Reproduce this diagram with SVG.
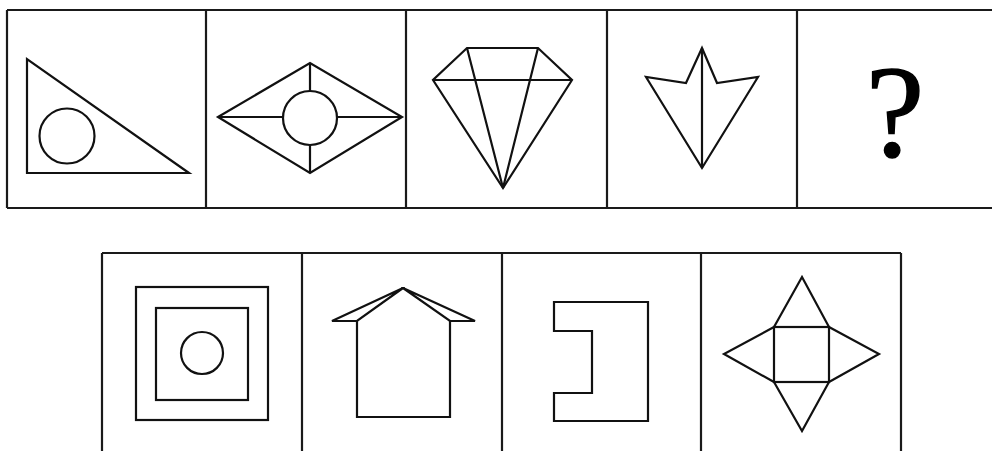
<svg xmlns="http://www.w3.org/2000/svg" width="992" height="451" viewBox="0 0 992 451">
<style>
.f{fill:none;stroke:#1a1a1a;stroke-width:2.2}
.s{fill:none;stroke:#111;stroke-width:2.2;stroke-linejoin:miter}
.q{font-family:"Liberation Serif","DejaVu Serif",serif;font-size:132px;fill:#000;stroke:#000;stroke-width:1.4}
</style>
<rect width="992" height="451" fill="#fff"/>
<g id="frames" class="f">
<path d="M7,10 H994 M7,208 H994 M7,10 V208 M206,10 V208 M406,10 V208 M607,10 V208 M797,10 V208"/>
<path d="M102,253 H901 M102,253 V455 M302,253 V455 M502,253 V455 M701,253 V455 M901,253 V455"/>
</g>
<g id="q1" class="s">
<path d="M27,59 L27,173 L189,173 Z"/>
<circle cx="67" cy="136" r="27.5"/>
</g>
<g id="q2" class="s">
<path d="M218,117 L310,63 L402,117 L310,173 Z"/>
<circle cx="310" cy="118" r="27"/>
<path d="M310,63 V91 M310,145 V173 M218,117 H283 M337,117 H402"/>
</g>
<g id="q3" class="s">
<path d="M467,48 L538,48 L572,80 L503,188 L433,80 Z"/>
<path d="M433,80 L572,80 M467,48 L503,188 M538,48 L503,188"/>
</g>
<g id="q4" class="s">
<path d="M702,48 L686,83 L646,77 L702,168 L758,77 L717,83 Z"/>
<path d="M702,48 V168"/>
</g>
<g id="q5">
<text class="q" x="895" y="156" text-anchor="middle">?</text>
</g>
<g id="a1" class="s">
<rect x="136" y="287" width="132" height="133"/>
<rect x="156" y="308" width="92" height="92"/>
<circle cx="202" cy="353" r="21"/>
</g>
<g id="a2" class="s">
<path d="M357,321 L357,417 L450,417 L450,321"/>
<path d="M403,288 L332,321 L357,321 Z"/>
<path d="M403,288 L475,321 L450,321 Z"/>
</g>
<g id="a3" class="s">
<path d="M554,302 H648 V421 H554 V393 H592 V331 H554 Z"/>
</g>
<g id="a4" class="s">
<rect x="774" y="327" width="55" height="55"/>
<path d="M774,327 L802,277 L829,327 M774,382 L802,431 L829,382 M774,327 L724,354 L774,382 M829,327 L879,354 L829,382"/>
</g>
</svg>
